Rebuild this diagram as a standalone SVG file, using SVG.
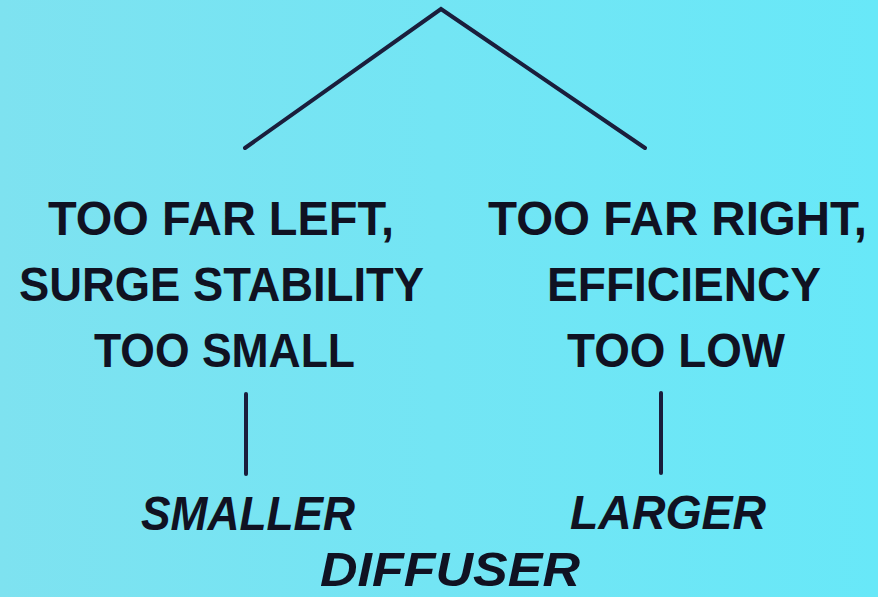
<svg xmlns="http://www.w3.org/2000/svg" width="878" height="597" viewBox="0 0 878 597">
<defs>
<linearGradient id="bg" x1="0" y1="0" x2="1" y2="0">
<stop offset="0" stop-color="#7ee2f0"/>
<stop offset="1" stop-color="#68e8f8"/>
</linearGradient>
<style>
.t{font-family:"Liberation Sans",Arial,sans-serif;font-weight:bold;font-size:48px;fill:#101222}
.i{font-style:italic}
.c{stroke:#1a1e3c;stroke-width:4;fill:none;stroke-linecap:round;stroke-linejoin:miter}
</style>
</defs>
<rect width="878" height="597" fill="url(#bg)"/>
<g id="connectors">
<polyline class="c" points="245,148 441,9 645,148"/>
<line class="c" x1="246" y1="394" x2="246" y2="474"/>
<line class="c" x1="661" y1="393" x2="661" y2="473"/>
</g>
<g id="left">
<text class="t" x="48" y="235" textLength="346" lengthAdjust="spacingAndGlyphs">TOO FAR LEFT,</text>
<text class="t" x="19" y="301" textLength="405" lengthAdjust="spacingAndGlyphs">SURGE STABILITY</text>
<text class="t" x="94" y="367" textLength="261" lengthAdjust="spacingAndGlyphs">TOO SMALL</text>
</g>
<g id="right">
<text class="t" x="488" y="235" textLength="379" lengthAdjust="spacingAndGlyphs">TOO FAR RIGHT,</text>
<text class="t" x="547" y="301" textLength="274" lengthAdjust="spacingAndGlyphs">EFFICIENCY</text>
<text class="t" x="567" y="367" textLength="218" lengthAdjust="spacingAndGlyphs">TOO LOW</text>
</g>
<g id="smaller">
<text class="t i" x="141" y="530" textLength="214" lengthAdjust="spacingAndGlyphs">SMALLER</text>
</g>
<g id="larger">
<text class="t i" x="570" y="529" textLength="196" lengthAdjust="spacingAndGlyphs">LARGER</text>
</g>
<g id="diffuser">
<text class="t i" x="320" y="586" textLength="260" lengthAdjust="spacingAndGlyphs">DIFFUSER</text>
</g>
</svg>
